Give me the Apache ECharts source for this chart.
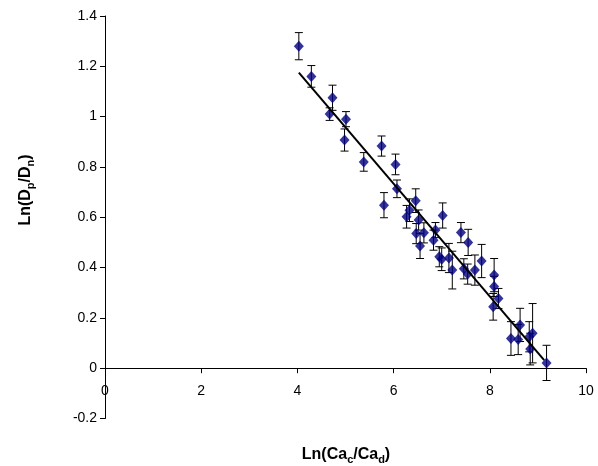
<!DOCTYPE html>
<html><head><meta charset="utf-8">
<script src="https://cdn.jsdelivr.net/npm/echarts@6/dist/echarts.min.js"></script>
<style>html,body{margin:0;padding:0;background:#fff}#c{width:598px;height:466px}</style>
</head><body><div id="c"></div>
<script>
// Ln(Ca_c/Ca_d) values
const xVals = [4.03, 4.29, 4.73, 4.67, 5.01, 4.98, 5.38, 5.75, 6.04, 6.07,
  5.80, 6.46, 6.33, 6.27, 6.52, 7.02, 6.47, 6.63, 6.87, 6.55,
  6.83, 7.40, 7.55, 6.95, 7.00, 7.15, 7.22, 7.46, 7.54, 7.69,
  7.83, 8.09, 8.09, 8.18, 8.07, 8.63, 8.44, 8.59, 8.82, 8.89,
  8.84, 9.18];
// Ln(Dp/Dn) values
const yVals = [1.28, 1.16, 1.075, 1.01, 0.99, 0.907, 0.82, 0.883, 0.81, 0.713,
  0.648, 0.666, 0.628, 0.602, 0.589, 0.607, 0.535, 0.538, 0.549, 0.486,
  0.509, 0.539, 0.500, 0.443, 0.433, 0.438, 0.390, 0.395, 0.374, 0.390,
  0.426, 0.370, 0.325, 0.277, 0.244, 0.172, 0.118, 0.114, 0.125, 0.139,
  0.076, 0.021];
// error bar half-heights
const errVals = [0.054, 0.043, 0.05, 0.025, 0.03, 0.044, 0.037, 0.04, 0.041, 0.035,
  0.05, 0.047, 0.045, 0.045, 0.04, 0.05, 0.04, 0.04, 0.03, 0.05,
  0.04, 0.04, 0.052, 0.04, 0.045, 0.058, 0.075, 0.04, 0.04, 0.06,
  0.066, 0.066, 0.04, 0.04, 0.053, 0.066, 0.067, 0.06, 0.06, 0.118,
  0.063, 0.07];
// fitted line endpoints
const trendX = [4.03, 9.13];
const trendY = [1.175, 0.032];

const pts = xVals.map((x, i) => [x, yVals[i]]);
const errData = xVals.map((x, i) => [x, yVals[i], errVals[i]]);
const trendData = trendX.map((x, i) => [x, trendY[i]]);

const chart = echarts.init(document.getElementById('c'), null, {renderer: 'canvas'});
const FONT = 'Liberation Sans, Arial, sans-serif';
const richT = {
  b: {fontSize: 16, fontWeight: 'bold', fontFamily: FONT, lineHeight: 20, fill: '#000', verticalAlign: 'middle'},
  s: {fontSize: 11, fontWeight: 'bold', fontFamily: FONT, lineHeight: 12, fill: '#000', verticalAlign: 'bottom'}
};
chart.setOption({
  animation: false,
  backgroundColor: '#ffffff',
  grid: {left: 105, right: 12, top: 16, bottom: 47.5, containLabel: false},
  xAxis: {
    type: 'value', min: 0, max: 10, interval: 2,
    axisLine: {onZero: true, lineStyle: {color: '#000', width: 1}},
    axisTick: {show: true, length: 5, lineStyle: {color: '#000'}},
    axisLabel: {color: '#000', fontSize: 14, fontFamily: FONT, margin: -34},
    splitLine: {show: false}
  },
  yAxis: {
    type: 'value', min: -0.2, max: 1.4, interval: 0.2,
    axisLine: {show: true, onZero: false, lineStyle: {color: '#000', width: 1}},
    axisTick: {show: true, length: 5, lineStyle: {color: '#000'}},
    axisLabel: {color: '#000', fontSize: 14, fontFamily: FONT, margin: 8,
      formatter: v => String(Math.round(v * 10) / 10)},
    splitLine: {show: false}
  },
  graphic: [
    {
      type: 'text', x: 346, y: 455,
      style: {text: '{b|Ln(Ca}{s|c}{b|/Ca}{s|d}{b|)}', align: 'center', verticalAlign: 'middle', rich: richT}
    },
    {
      type: 'text', x: 26, y: 190, rotation: Math.PI / 2,
      style: {text: '{b|Ln(D}{s|p}{b|/D}{s|n}{b|)}', align: 'center', verticalAlign: 'middle', rich: richT}
    }
  ],
  series: [
    {
      type: 'custom',
      data: errData,
      z: 2,
      renderItem: function (params, api) {
        const x = api.value(0), y = api.value(1), e = api.value(2);
        const top = api.coord([x, y + e]);
        const bot = api.coord([x, y - e]);
        const hw = 4;
        const st = {stroke: '#000', lineWidth: 1, fill: null};
        return {
          type: 'group',
          children: [
            {type: 'line', shape: {x1: top[0], y1: top[1], x2: bot[0], y2: bot[1]}, style: st},
            {type: 'line', shape: {x1: top[0] - hw, y1: top[1], x2: top[0] + hw, y2: top[1]}, style: st},
            {type: 'line', shape: {x1: bot[0] - hw, y1: bot[1], x2: bot[0] + hw, y2: bot[1]}, style: st}
          ]
        };
      }
    },
    {
      type: 'scatter',
      data: pts,
      z: 3,
      symbol: 'diamond',
      symbolSize: [10, 11],
      itemStyle: {color: '#000080'}
    },
    {
      type: 'line',
      data: trendData,
      z: 4,
      showSymbol: false,
      symbol: 'none',
      lineStyle: {color: '#000', width: 2}
    }
  ]
});
</script>
</body></html>
